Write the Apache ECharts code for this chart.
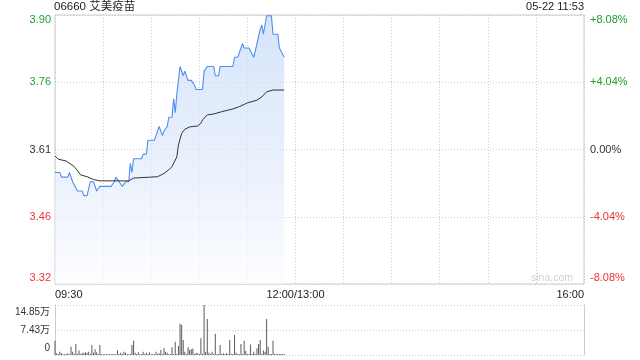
<!DOCTYPE html>
<html><head><meta charset="utf-8">
<script src="https://cdn.jsdelivr.net/npm/echarts@6/dist/echarts.min.js"></script>
<style>html,body{margin:0;padding:0;background:#fff}#c{width:640px;height:360px}</style>
</head><body><div id="c"></div>
<script>
const stockTitle = '06660 艾美疫苗';
const stampText = '05-22 11:53';
const watermark = 'sina.com';
const prevClose = 3.61;
const pctStep = 4.04;
const volMax = 148500;
const priceTickLabels = ['3.32', '3.46', '3.61', '3.76', '3.90'];
const pctTickLabels = ['-8.08%', '-4.04%', '0.00%', '+4.04%', '+8.08%'];
const volTickLabels = ['0', '7.43万', '14.85万'];
const xTickLabels = { 0: '09:30', 150: '12:00/13:00', 330: '16:00' };

const priceTimes = ['09:30','09:33','09:34','09:38','09:39','09:41','09:44','09:47','09:48','09:50',
  '09:52','09:54','09:56','09:57','09:58','10:05','10:07','10:08','10:10','10:12',
  '10:14','10:16','10:17','10:18','10:19','10:24','10:25','10:27','10:28','10:32',
  '10:33','10:35','10:37','10:38','10:40','10:41','10:43','10:44','10:45','10:46',
  '10:48','10:49','10:50','10:51','10:52','10:53','10:55','10:57','10:58','11:02',
  '11:03','11:05','11:09','11:10','11:12','11:13','11:21','11:22','11:24','11:27',
  '11:28','11:31','11:34','11:35','11:38','11:39','11:40','11:42','11:45','11:46',
  '11:49','11:50','11:53'];
const priceValues = [3.56,3.56,3.55,3.55,3.56,3.54,3.52,3.52,3.51,3.51,
  3.54,3.54,3.52,3.52,3.53,3.53,3.54,3.55,3.54,3.53,
  3.54,3.54,3.58,3.56,3.59,3.59,3.60,3.60,3.63,3.63,
  3.64,3.66,3.64,3.65,3.66,3.68,3.68,3.72,3.69,3.73,
  3.79,3.79,3.77,3.78,3.78,3.76,3.76,3.75,3.74,3.74,
  3.78,3.79,3.79,3.77,3.77,3.79,3.79,3.81,3.81,3.84,
  3.83,3.83,3.81,3.81,3.87,3.88,3.86,3.90,3.90,3.86,
  3.86,3.83,3.81];

const avgTimes = ['09:30','09:32','09:37','09:42','09:46','09:50','09:54','09:58','10:16','10:19',
  '10:29','10:34','10:38','10:41','10:43','10:46','10:47','10:49','10:51','10:54',
  '10:59','11:01','11:02','11:05','11:09','11:14','11:21','11:25','11:30','11:36',
  '11:39','11:42','11:46','11:53'];
const avgValues = [3.596,3.589,3.585,3.573,3.555,3.551,3.545,3.542,3.542,3.548,
  3.550,3.551,3.558,3.566,3.573,3.594,3.620,3.645,3.654,3.659,
  3.661,3.667,3.674,3.685,3.687,3.692,3.698,3.703,3.711,3.717,
  3.724,3.735,3.739,3.739];

const volStart = '09:30';
const volumes = [42500,5000,3000,10000,5000,3000,2000,3000,5000,2000,
  24700,10000,3000,32700,4000,13000,3000,6000,7000,8000,
  7000,10000,3000,30000,7000,17000,8000,3000,30000,3000,
  2000,3000,2000,3000,2000,3000,2000,3000,2000,13000,
  3000,7000,3000,10000,7000,3000,2000,3000,30000,42500,
  7000,3000,8000,2000,3000,10000,3000,7000,3000,8000,
  2000,3000,2000,10000,3000,5000,15000,3000,20000,10000,
  7000,3000,3000,23000,3000,39500,3000,26700,93000,90000,
  44500,10000,3000,23000,15000,17000,19000,3000,7000,5000,
  3000,49500,3000,148500,10000,107000,7000,3000,10000,3000,
  63000,3000,3000,30000,3000,5000,3000,5000,3000,44500,
  3000,3000,59400,7000,3000,3000,32700,3000,42500,12000,
  3000,3000,31000,3000,10000,3000,20000,32700,44500,3000,
  13000,10000,107000,24700,3000,3000,42500,3000,3000,3000,
  3000,3000,3000,3000];

const UP = '#1f9f2a', DOWN = '#ee3333', MID = '#333333';
const FONT = '"Liberation Sans", Arial, "Noto Sans CJK SC", sans-serif';

function toMin(t) {
  const [h, m] = t.split(':').map(Number);
  let v = h * 60 + m - 570;
  if (v >= 210) v -= 60;
  return v;
}
const pct = p => (p / prevClose - 1) * 100;
const priceData = priceTimes.map((t, i) => [toMin(t), pct(priceValues[i])]);
const avgData = avgTimes.map((t, i) => [toMin(t), pct(avgValues[i])]);
const v0 = toMin(volStart);
const volData = volumes.map((v, i) => [v0 + i, v]);

const priceStyles = ['dnB', 'dn', 'mid', 'up', 'upT'];
function richSet(size) {
  return {
    upT: { color: UP, fontSize: size, fontFamily: FONT, padding: [10, 0, 0, 0] },
    up: { color: UP, fontSize: size, fontFamily: FONT },
    mid: { color: MID, fontSize: size, fontFamily: FONT },
    dn: { color: DOWN, fontSize: size, fontFamily: FONT },
    dnB: { color: DOWN, fontSize: size, fontFamily: FONT, padding: [0, 0, 12, 0] },
    t: { color: MID, fontSize: 10, fontFamily: FONT, padding: [14, 0, 0, 0] },
    m: { color: MID, fontSize: 10, fontFamily: FONT },
    b: { color: MID, fontSize: 10, fontFamily: FONT, padding: [0, 0, 14, 0] }
  };
}
const dotted = { color: '#cccccc', type: [1, 2], width: 1 };

const chart = echarts.init(document.getElementById('c'), null, { renderer: 'canvas' });
chart.setOption({
  animation: false,
  textStyle: { fontFamily: FONT },
  title: [
    { text: stockTitle, left: 54, top: 1, padding: 0,
      textStyle: { fontSize: 11.5, fontWeight: 'normal', color: '#222', fontFamily: FONT } },
    { text: stampText, right: 56, top: 1, padding: 0,
      textStyle: { fontSize: 11, fontWeight: 'normal', color: '#222', fontFamily: FONT } }
  ],
  graphic: [{
    type: 'text', right: 67, top: 273, silent: true,
    style: { text: watermark, fill: '#d2d2d2', fontSize: 10.5, fontFamily: FONT }
  }],
  grid: [
    { left: 55, right: 56, top: 15, height: 269, show: true, borderColor: '#cccccc', borderWidth: 1, backgroundColor: 'transparent' },
    { left: 55, right: 56, top: 305, height: 50, show: false }
  ],
  xAxis: [
    { type: 'value', gridIndex: 0, min: 0, max: 330, interval: 30,
      axisLine: { show: false }, axisTick: { show: false },
      splitLine: { show: true, lineStyle: dotted },
      axisLabel: { show: true, margin: 5, color: '#222', fontSize: 11, fontFamily: FONT,
        showMinLabel: true, showMaxLabel: true, alignMinLabel: 'left', alignMaxLabel: 'right',
        formatter: v => xTickLabels[v] || '' } },
    { type: 'value', gridIndex: 1, min: 0, max: 330, interval: 30,
      axisLine: { show: false }, axisTick: { show: false },
      splitLine: { show: false }, axisLabel: { show: false } }
  ],
  yAxis: [
    { type: 'value', gridIndex: 0, min: -2 * pctStep, max: 2 * pctStep, interval: pctStep,
      axisLine: { show: false }, axisTick: { show: false },
      splitLine: { show: true, lineStyle: dotted },
      axisLabel: { margin: 4, rich: richSet(11),
        formatter: v => { const i = Math.round(v / pctStep) + 2; return '{' + priceStyles[i] + '|' + priceTickLabels[i] + '}'; } } },
    { type: 'value', gridIndex: 0, position: 'right', min: -2 * pctStep, max: 2 * pctStep, interval: pctStep,
      axisLine: { show: false }, axisTick: { show: false }, splitLine: { show: false },
      axisLabel: { margin: 6, rich: richSet(11),
        formatter: v => { const i = Math.round(v / pctStep) + 2; return '{' + priceStyles[i] + '|' + pctTickLabels[i] + '}'; } } },
    { type: 'value', gridIndex: 1, min: 0, max: volMax, interval: volMax / 2,
      axisLine: { show: true, lineStyle: { color: '#cccccc', width: 1 } }, axisTick: { show: false },
      splitLine: { show: true, lineStyle: dotted },
      axisLabel: { margin: 5, rich: richSet(10),
        formatter: v => { const i = Math.round(v / (volMax / 2)); return '{' + ['b', 'm', 't'][i] + '|' + volTickLabels[i] + '}'; } } },
    { type: 'value', gridIndex: 1, position: 'right', min: 0, max: volMax, interval: volMax / 2,
      axisLine: { show: true, lineStyle: { color: '#cccccc', width: 1 } }, axisTick: { show: false },
      splitLine: { show: false }, axisLabel: { show: false } }
  ],
  series: [
    { type: 'line', xAxisIndex: 0, yAxisIndex: 0, data: priceData, symbol: 'none',
      lineStyle: { color: '#4f8ef2', width: 1.1 },
      areaStyle: { origin: 'start', color: new echarts.graphic.LinearGradient(0, 0, 0, 1, [
        { offset: 0, color: 'rgba(196,216,247,1)' },
        { offset: 0.6, color: 'rgba(226,235,251,1)' },
        { offset: 1, color: 'rgba(251,252,255,1)' }]) } },
    { type: 'line', xAxisIndex: 0, yAxisIndex: 0, data: avgData, symbol: 'none',
      lineStyle: { color: '#333333', width: 1 } },
    { type: 'bar', xAxisIndex: 1, yAxisIndex: 2, data: volData, barWidth: 1,
      itemStyle: { color: '#5a5a5a' } }
  ]
});
</script></body></html>
